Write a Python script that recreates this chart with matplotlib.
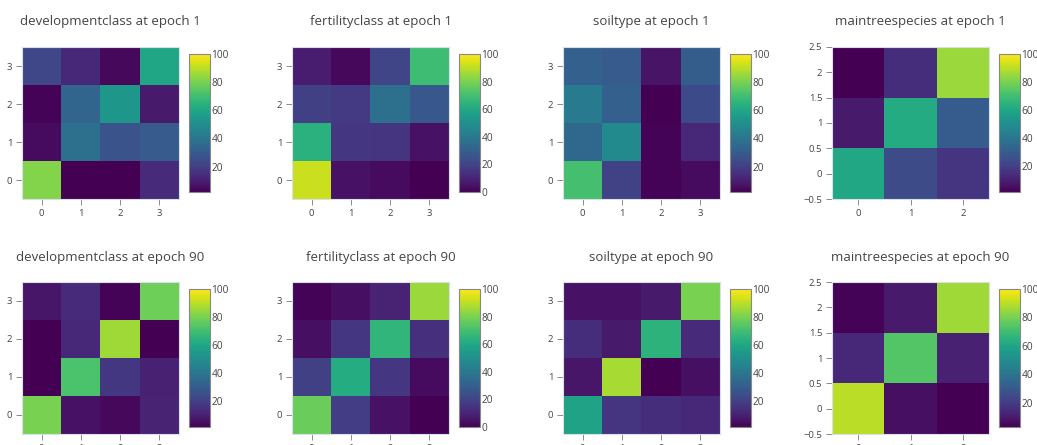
import numpy as np
from matplotlib import pyplot as plt

plt.rcParams['font.family'] = ['Open Sans', 'DejaVu Sans']

W, H = 1037, 445

# confusion matrices in percent, rows listed from y=0 (bottom) upward
dev_1 = [[82, 2, 2, 14],
         [5, 38, 27, 30],
         [3, 34, 54, 9],
         [23, 13, 4, 60]]
fert_1 = [[92, 5, 3, 0],
          [64, 16, 15, 5],
          [19, 17, 37, 27],
          [8, 2, 21, 69]]
soil_1 = [[71, 21, 3, 5],
          [35, 49, 3, 13],
          [42, 32, 2, 24],
          [32, 30, 7, 31]]
tree_1 = [[60, 24, 16],
          [8, 62, 30],
          [1, 14, 85]]
dev_90 = [[80, 6, 3, 11],
          [1, 72, 17, 10],
          [1, 12, 86, 1],
          [7, 13, 2, 78]]
fert_90 = [[77, 18, 5, 0],
           [19, 62, 16, 3],
           [4, 16, 66, 14],
           [1, 4, 10, 85]]
soil_90 = [[58, 16, 14, 12],
           [7, 87, 1, 5],
           [14, 8, 65, 13],
           [6, 6, 8, 80]]
tree_90 = [[90, 7, 3],
           [14, 74, 12],
           [4, 10, 86]]

titles = ["developmentclass at epoch 1", "fertilityclass at epoch 1",
          "soiltype at epoch 1", "maintreespecies at epoch 1",
          "developmentclass at epoch 90", "fertilityclass at epoch 90",
          "soiltype at epoch 90", "maintreespecies at epoch 90"]
matrices = [dev_1, fert_1, soil_1, tree_1, dev_90, fert_90, soil_90, tree_90]

# pixel layout: heatmap left edges per column, top edges per row
col_left = [22, 292, 563, 832]
row_top = [47, 282]
HM_W, HM_H = 157, 152
CB_GAP, CB_W, CB_H, CB_OFF = 10, 21, 138, 7
TITLE_Y = [22, 257]

TXT = "#444444"


def px_box(left, top, w, h):
    return [left / W, 1 - (top + h) / H, w / W, h / H]


fig = plt.figure(figsize=(W / 100, H / 100), dpi=100)

for i, (title, mat) in enumerate(zip(titles, matrices)):
    r, c = divmod(i, 4)
    z = np.array(mat, dtype=float)
    n = z.shape[0]
    left, top = col_left[c], row_top[r]

    ax = fig.add_axes(px_box(left, top, HM_W, HM_H))
    im = ax.imshow(z, origin="lower", cmap="viridis", vmin=z.min(), vmax=100,
                   aspect="auto", extent=(-0.5, n - 0.5, -0.5, n - 0.5),
                   interpolation="nearest")
    ax.set_xticks(range(n))
    if n == 3:
        yt = np.arange(-0.5, 2.51, 0.5)
        ax.set_yticks(yt)
        ax.set_yticklabels([f"{v:g}".replace("-", "\u2212") for v in yt])
    else:
        ax.set_yticks(range(n))
    ax.tick_params(colors="#777777", labelcolor=TXT, labelsize=6.8,
                   length=4, width=0.6, pad=3)
    for s in ax.spines.values():
        s.set_color("#d8e0ea")
        s.set_linewidth(0.8)

    cax = fig.add_axes(px_box(left + HM_W + CB_GAP, top + CB_OFF, CB_W, CB_H))
    cb = fig.colorbar(im, cax=cax)
    ticks = [t for t in [0, 20, 40, 60, 80, 100] if t >= z.min()]
    cb.set_ticks(ticks)
    cb.ax.tick_params(length=0, labelsize=7.3, labelcolor=TXT, pad=1)
    cb.outline.set_edgecolor("#888888")
    cb.outline.set_linewidth(0.8)

    fig.text((left + HM_W / 2 + 10) / W, 1 - TITLE_Y[r] / H, title,
             ha="center", va="center", fontsize=9.5, color=TXT)

plt.savefig("out.png", dpi=100)
